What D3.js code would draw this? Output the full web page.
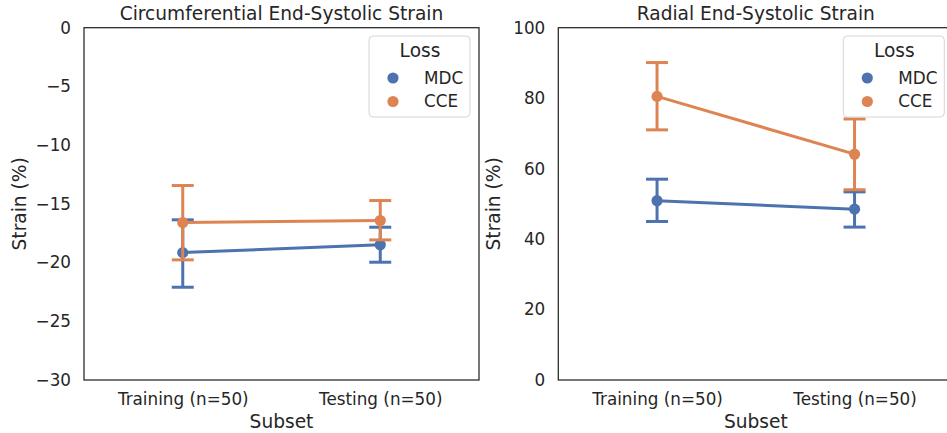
<!DOCTYPE html>
<html>
<head>
<meta charset="utf-8">
<script src="https://cdn.jsdelivr.net/npm/d3@7"></script>
<style>
  html, body { margin: 0; padding: 0; background: #fff; }
  svg { display: block; }
  text { font-family: "DejaVu Sans", sans-serif; fill: #262626; }
</style>
</head>
<body>
<svg id="chart" width="947" height="433"></svg>
<script>
const categories = ["Training (n=50)", "Testing (n=50)"];
const lossNames = ["MDC", "CCE"];
const colors = ["#4c72b0", "#dd8452"];

// Circumferential
const circMDCMean = [-19.15, -18.49];
const circMDCLow  = [-22.10, -19.97];
const circMDCHigh = [-16.36, -16.99];
const circCCEMean = [-16.59, -16.42];
const circCCELow  = [-19.77, -18.07];
const circCCEHigh = [-13.44, -14.72];
const circTicks = [0, -5, -10, -15, -20, -25, -30];

// Radial
const radMDCMean = [50.9, 48.5];
const radMDCLow  = [45.0, 43.4];
const radMDCHigh = [57.0, 53.4];
const radCCEMean = [80.5, 64.1];
const radCCELow  = [71.0, 54.0];
const radCCEHigh = [90.1, 74.1];
const radTicks = [0, 20, 40, 60, 80, 100];

const svg = d3.select("#chart");
const tickFont = "16.8px", labelFont = "18.6px";

function panel(opts) {
  const { left, title, domain, ticks, series } = opts;
  const top = 27.7, bottom = 380, width = 395;
  const g = svg.append("g");

  const x = d3.scalePoint().domain(categories).range([left + width / 4, left + width * 3 / 4]);
  const y = d3.scaleLinear().domain(domain).range([bottom, top]);

  const yAxis = d3.axisLeft(y).tickValues(ticks).tickSize(0).tickPadding(13)
    .tickFormat(d => d < 0 ? "\u2212" + Math.abs(d) : String(d));
  const ya = g.append("g").attr("transform", `translate(${left},0)`).call(yAxis);
  ya.select(".domain").remove();
  ya.selectAll("text").style("font-size", tickFont).style("font-family", "DejaVu Sans").attr("fill", "#262626");

  const xAxis = d3.axisBottom(x).tickSize(0).tickPadding(13);
  const xa = g.append("g").attr("transform", `translate(0,${bottom})`).call(xAxis);
  xa.select(".domain").remove();
  xa.selectAll("text").style("font-size", tickFont).style("font-family", "DejaVu Sans").attr("fill", "#262626");

  series.forEach((s, si) => {
    const c = colors[si];
    const sg = g.append("g");
    categories.forEach((cat, i) => {
      const cx = x(cat);
      sg.append("line").attr("x1", cx).attr("x2", cx)
        .attr("y1", y(s.low[i])).attr("y2", y(s.high[i]))
        .attr("stroke", c).attr("stroke-width", 3);
      [s.low[i], s.high[i]].forEach(v => {
        sg.append("line").attr("x1", cx - 11).attr("x2", cx + 11)
          .attr("y1", y(v)).attr("y2", y(v))
          .attr("stroke", c).attr("stroke-width", 3);
      });
    });
    const line = d3.line().x((d, i) => x(categories[i])).y(d => y(d));
    sg.append("path").datum(s.mean).attr("d", line)
      .attr("fill", "none").attr("stroke", c).attr("stroke-width", 3);
    sg.selectAll("circle").data(s.mean).enter().append("circle")
      .attr("cx", (d, i) => x(categories[i])).attr("cy", d => y(d))
      .attr("r", 5.6).attr("fill", c);
  });

  g.append("rect").attr("x", left).attr("y", top).attr("width", width).attr("height", bottom - top)
    .attr("fill", "none").attr("stroke", "#262626").attr("stroke-width", 1.25);

  g.append("text").attr("x", left + width / 2).attr("y", 20).attr("text-anchor", "middle")
    .style("font-size", labelFont).text(title);
  g.append("text").attr("x", left + width / 2).attr("y", 428).attr("text-anchor", "middle")
    .style("font-size", labelFont).text("Subset");
  g.append("text").attr("transform", `translate(${left - 58},${(top + bottom) / 2}) rotate(-90)`)
    .attr("text-anchor", "middle").style("font-size", labelFont).text("Strain (%)");

  const lx = left + width - 110, ly = 36;
  const lg = g.append("g");
  lg.append("rect").attr("x", lx).attr("y", ly).attr("width", 101).attr("height", 81)
    .attr("rx", 4).attr("fill", "#fff").attr("fill-opacity", 0.8)
    .attr("stroke", "#d6d6d6").attr("stroke-width", 1);
  lg.append("text").attr("x", lx + 51).attr("y", ly + 21).attr("text-anchor", "middle")
    .style("font-size", labelFont).text("Loss");
  lossNames.forEach((n, i) => {
    const yy = ly + 42 + i * 23.5;
    lg.append("circle").attr("cx", lx + 24).attr("cy", yy).attr("r", 5.6).attr("fill", colors[i]);
    lg.append("text").attr("x", lx + 55).attr("y", yy).attr("dy", "0.35em")
      .style("font-size", tickFont).text(n);
  });
}

panel({
  left: 84, title: "Circumferential End-Systolic Strain", domain: [-30, 0], ticks: circTicks,
  series: [
    { mean: circMDCMean, low: circMDCLow, high: circMDCHigh },
    { mean: circCCEMean, low: circCCELow, high: circCCEHigh }
  ]
});
panel({
  left: 558.3, title: "Radial End-Systolic Strain", domain: [0, 100], ticks: radTicks,
  series: [
    { mean: radMDCMean, low: radMDCLow, high: radMDCHigh },
    { mean: radCCEMean, low: radCCELow, high: radCCEHigh }
  ]
});
</script>
</body>
</html>
